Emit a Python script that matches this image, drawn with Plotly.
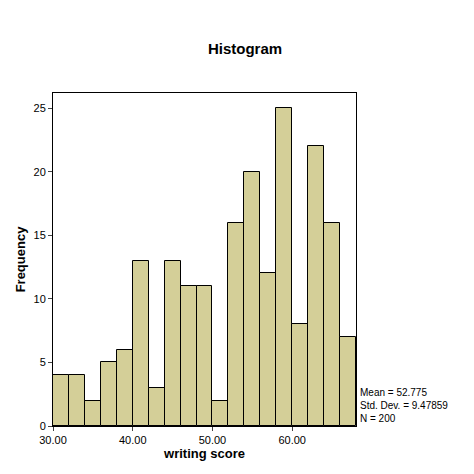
import plotly.graph_objects as go

bin_starts = [30,32,34,36,38,40,42,44,46,48,50,52,54,56,58,60,62,64,66]
counts = [4,4,2,5,6,13,3,13,11,11,2,16,20,12,25,8,22,16,7]
tick_vals = [30,40,50,60]
tick_text = ["30.00","40.00","50.00","60.00"]
stats_text = "Mean = 52.775<br>Std. Dev. = 9.47859<br>N = 200"

fig = go.Figure(go.Bar(
    x=[b+1 for b in bin_starts], y=counts, width=2,
    marker=dict(color="#d4cf98", line=dict(color="black", width=1))))
fig.update_layout(
    width=474, height=474, margin=dict(l=43, r=126, t=85, b=56),
    plot_bgcolor="white", paper_bgcolor="white", showlegend=False,
    font=dict(family="Arial, Liberation Sans", color="black", size=11),
    title=dict(text="<b>Histogram</b>", x=0.5, xanchor="center", y=0.915, yanchor="middle",
               font=dict(size=15)),
    bargap=0)
fig.update_xaxes(range=[30,68], tickvals=tick_vals, ticktext=tick_text,
    showline=True, linecolor="black", mirror=True, ticks="outside", ticklen=4,
    showgrid=False, zeroline=False,
    title=dict(text="<b>writing score</b>", font=dict(size=13), standoff=2))
fig.update_yaxes(range=[0,26.2], tickvals=[0,5,10,15,20,25],
    showline=True, linecolor="black", mirror=True, ticks="outside", ticklen=4,
    showgrid=False, zeroline=False,
    title=dict(text="<b>Frequency</b>", font=dict(size=13), standoff=4))
fig.add_annotation(text=stats_text, xref="paper", yref="paper", x=1.005, y=0.0,
    xanchor="left", yanchor="bottom", showarrow=False, align="left", font=dict(size=10))
fig.write_html("out.html")
